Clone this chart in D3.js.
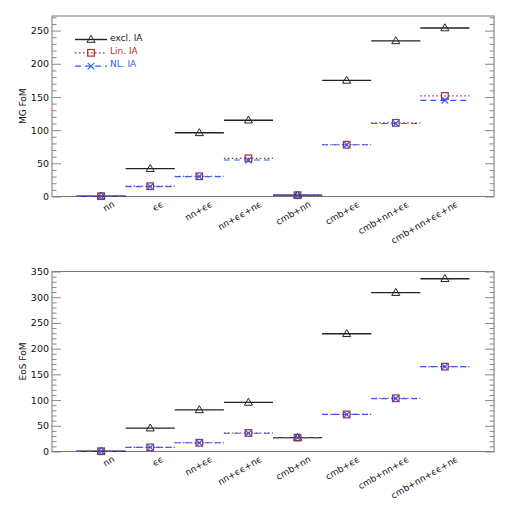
<!DOCTYPE html>
<html><head><meta charset="utf-8">
<script src="https://cdn.jsdelivr.net/npm/d3@7"></script>
<style>body{margin:0;background:#fff}svg{display:block}text{font-family:"DejaVu Sans",sans-serif}</style>
</head><body><div id="c"></div>
<script>
const categories = ["nn","ϵϵ","nn+ϵϵ","nn+ϵϵ+nϵ","cmb+nn","cmb+ϵϵ","cmb+nn+ϵϵ","cmb+nn+ϵϵ+nϵ"];
const mgExcl = [0.5, 42, 96, 115, 2, 175, 234.5, 254];
const mgLin  = [0.5, 15.5, 30.5, 57.5, 2, 78, 111, 151.5];
const mgNL   = [0.3, 15, 30, 55, 2, 78, 110, 145];
const eosExcl = [0.5, 45.5, 81, 95.5, 27, 229, 309, 336];
const eosLin  = [0.5, 8, 17, 36, 27, 72, 103.5, 165];
const eosNL   = [0.4, 8, 17, 35.5, 27, 72, 103, 165];
const mgTicks = [0, 50, 100, 150, 200, 250];
const eosTicks = [0, 50, 100, 150, 200, 250, 300, 350];
const seriesNames = ["excl. IA", "Lin. IA", "NL. IA"];

const W = 510, H = 510;
const svg = d3.select("#c").append("svg").attr("width", W).attr("height", H);
const L = 52, R = 494;
const x = d3.scaleLinear().domain([0, categories.length + 1]).range([L, R]);
const colors = ["#222222", "#b02a2a", "#2a5cff"];
const dashes = [null, "1.5,2.5", "6,4"];
const widths = [1.4, 1.2, 1.2];

function marker(g, type, cx, cy) {
  if (type === 0) {
    g.append("path").attr("d", d3.symbol().type(d3.symbolTriangle).size(28)())
      .attr("transform", `translate(${cx},${cy + 0.5})`).attr("fill", "none").attr("stroke", colors[0]).attr("stroke-width", 1);
  } else if (type === 1) {
    g.append("rect").attr("x", cx - 3.3).attr("y", cy - 3.3).attr("width", 6.6).attr("height", 6.6)
      .attr("fill", "none").attr("stroke", colors[1]).attr("stroke-width", 1.2);
  } else {
    g.append("path").attr("d", `M${cx-3.3},${cy-3.3}L${cx+3.3},${cy+3.3}M${cx-3.3},${cy+3.3}L${cx+3.3},${cy-3.3}`)
      .attr("fill", "none").attr("stroke", colors[2]).attr("stroke-width", 1.2);
  }
}

function panel(top, bottom, ymax, ticks, series, title, legend) {
  const y = d3.scaleLinear().domain([0, ymax]).range([bottom, top]);
  const g = svg.append("g");
  g.append("rect").attr("x", L).attr("y", top).attr("width", R - L).attr("height", bottom - top)
    .attr("fill", "none").attr("stroke", "#777").attr("stroke-width", 1);
  const minor = d3.range(0, ymax + 0.01, 10).filter(v => !ticks.includes(v));
  const axL = d3.axisLeft(y).tickValues(ticks).tickSize(-9).tickPadding(3).tickSizeOuter(0);
  const gl = g.append("g").attr("transform", `translate(${L},0)`).call(axL);
  gl.select(".domain").remove();
  gl.selectAll("line").attr("stroke", "#888");
  gl.selectAll("text").attr("font-size", 9.5).attr("fill", "#111");
  const axLm = d3.axisLeft(y).tickValues(minor).tickSize(-4.5).tickFormat("");
  const glm = g.append("g").attr("transform", `translate(${L},0)`).call(axLm);
  glm.select(".domain").remove(); glm.selectAll("line").attr("stroke", "#888");
  const axR = d3.axisRight(y).tickValues(ticks).tickSize(-9).tickFormat("");
  const gr = g.append("g").attr("transform", `translate(${R},0)`).call(axR);
  gr.select(".domain").remove(); gr.selectAll("line").attr("stroke", "#888");
  const axRm = d3.axisRight(y).tickValues(minor).tickSize(-4.5).tickFormat("");
  const grm = g.append("g").attr("transform", `translate(${R},0)`).call(axRm);
  grm.select(".domain").remove(); grm.selectAll("line").attr("stroke", "#888");
  g.append("text").attr("transform", `translate(26,${(top + bottom) / 2}) rotate(-90)`)
    .attr("text-anchor", "middle").attr("font-size", 9).attr("fill", "#111").text(title);
  categories.forEach((c, i) => {
    g.append("text").attr("transform", `translate(${x(i + 1) + 14},${bottom + 9.5}) rotate(-30)`)
      .attr("text-anchor", "end").attr("font-size", 9).attr("fill", "#111").text(c);
  });
  series.forEach((vals, s) => {
    vals.forEach((v, i) => {
      g.append("line").attr("x1", x(i + 0.5)).attr("x2", x(i + 1.5)).attr("y1", y(v)).attr("y2", y(v))
        .attr("stroke", colors[s]).attr("stroke-width", widths[s]).attr("stroke-dasharray", dashes[s]);
    });
  });
  series.forEach((vals, s) => {
    vals.forEach((v, i) => marker(g, s, x(i + 1), y(v)));
  });
  if (legend) {
    seriesNames.forEach((n, s) => {
      const ly = 39.5 + s * 13.3;
      g.append("line").attr("x1", 75).attr("x2", 107).attr("y1", ly).attr("y2", ly)
        .attr("stroke", colors[s]).attr("stroke-width", widths[s]).attr("stroke-dasharray", dashes[s]);
      marker(g, s, 91, ly);
      g.append("text").attr("x", 110).attr("y", ly + 1).attr("font-size", 9).attr("fill", colors[s]).text(n);
    });
  }
}

panel(16, 196.5, 272, mgTicks, [mgExcl, mgLin, mgNL], "MG FoM", true);
panel(271.5, 451.5, 350, eosTicks, [eosExcl, eosLin, eosNL], "EoS FoM", false);
</script></body></html>
